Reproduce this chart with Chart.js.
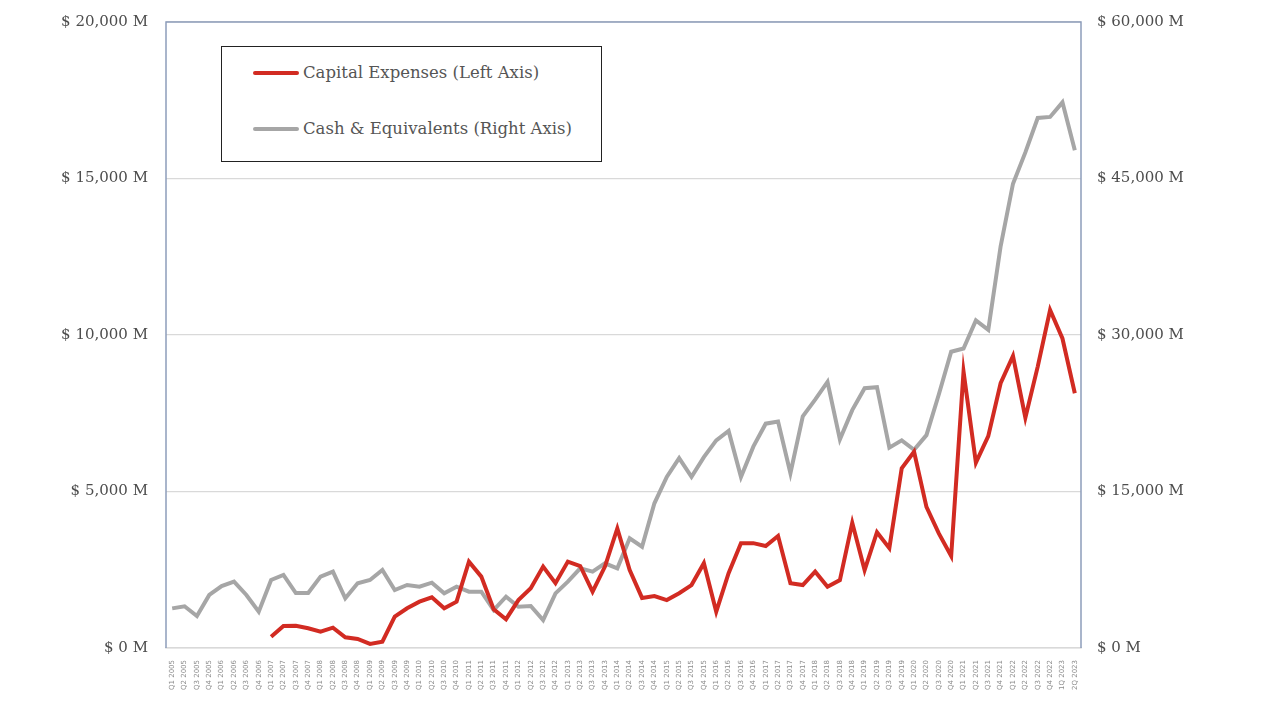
<!DOCTYPE html>
<html>
<head>
<meta charset="utf-8">
<script src="https://cdn.jsdelivr.net/npm/chart.js@4"></script>
<style>
  html, body { margin: 0; padding: 0; background: #fff; }
  #wrap { position: relative; width: 1269px; height: 722px; }
  #legend {
    position: absolute; left: 221px; top: 46px; width: 379px; height: 114px;
    border: 1.5px solid #222; background: #fff;
    font-family: "DejaVu Serif", serif; font-size: 16.5px; color: #555;
  }
  .row { position: absolute; left: 31px; display: flex; align-items: center; }
  .swatch { width: 46px; height: 4px; margin-right: 4px; border-radius: 2px; }
</style>
</head>
<body>
<div id="wrap">
  <canvas id="lineChart" width="1269" height="722"></canvas>
  <div id="legend"></div>
</div>
<script>
const ctx = document.getElementById('lineChart').getContext('2d');

// quarters Q1 2005 .. Q4 2022, then the two 2023 quarters
const years = [2005, 2006, 2007, 2008, 2009, 2010, 2011, 2012, 2013, 2014, 2015, 2016, 2017, 2018, 2019, 2020, 2021, 2022];
const quarters = ['Q1', 'Q2', 'Q3', 'Q4'];
const extraLabels = ['1Q 2023', '2Q 2023'];
const labels = [];
years.forEach(y => quarters.forEach(q => labels.push(q + ' ' + y)));
extraLabels.forEach(l => labels.push(l));

// $ M
const capex = [
  null, null, null, null, null, null, null, null,
  360, 700, 710, 630, 520, 650, 340, 290, 130, 200,
  1000, 1270, 1480, 1620, 1270, 1480, 2760, 2280, 1240, 920,
  1530, 1910, 2600, 2070, 2760, 2620, 1800, 2600, 3820, 2490,
  1600, 1660, 1530, 1750, 2010, 2710, 1160, 2390, 3350, 3350,
  3260, 3580, 2070, 2010, 2440, 1960, 2170, 4000, 2490, 3700,
  3190, 5740, 6270, 4510, 3660, 2940, 8830, 5920, 6770, 8460,
  9330, 7360, 8990, 10800, 9890, 8140
];
const cash = [
  3800, 4000, 3070, 5080, 5940, 6360, 5080, 3480, 6520, 7000,
  5270, 5270, 6840, 7320, 4770, 6200, 6520, 7480, 5560, 6040,
  5880, 6260, 5240, 5880, 5400, 5400, 3640, 4920, 3960, 4030,
  2680, 5240, 6360, 7640, 7320, 8120, 7640, 10520, 9710, 13870,
  16400, 18200, 16400, 18300, 19900, 20800, 16400, 19300, 21500, 21700,
  16750, 22200, 23800, 25500, 20000, 22800, 24900, 25000, 19200, 19900,
  19000, 20400, 24300, 28400, 28700, 31400, 30500, 38500, 44500, 47500,
  50800, 50900, 52300, 47700
];

const seriesNames = ['Capital Expenses (Left Axis)', 'Cash & Equivalents (Right Axis)'];
const seriesColors = ['#d22b22', '#a6a6a6'];

const money = v => '$ ' + v.toLocaleString('en-US') + ' M';
const tickFont = { family: 'DejaVu Serif', size: 15 };

// top/side frame of the plot area
const frame = {
  id: 'frame',
  afterDraw(chart) {
    const { ctx, chartArea: a } = chart;
    ctx.save();
    ctx.strokeStyle = '#8d9dbb';
    ctx.lineWidth = 1.5;
    ctx.beginPath();
    ctx.moveTo(a.left, a.bottom);
    ctx.lineTo(a.left, a.top);
    ctx.lineTo(a.right, a.top);
    ctx.lineTo(a.right, a.bottom);
    ctx.stroke();
    ctx.restore();
  }
};

const fitY = w => s => { s.width = w; s.paddingTop = 0; s.paddingBottom = 0; };

const chart = new Chart(ctx, {
  type: 'line',
  data: {
    labels,
    datasets: [
      {
        label: seriesNames[0],
        data: capex,
        yAxisID: 'y',
        borderColor: seriesColors[0],
        borderWidth: 4,
        pointRadius: 0,
        tension: 0,
        order: 1
      },
      {
        label: seriesNames[1],
        data: cash,
        yAxisID: 'y1',
        borderColor: seriesColors[1],
        borderWidth: 4,
        pointRadius: 0,
        tension: 0,
        order: 2
      }
    ]
  },
  options: {
    responsive: false,
    animation: false,
    layout: { padding: { top: 22, left: 0, right: 0, bottom: 0 } },
    plugins: { legend: { display: false }, tooltip: { enabled: false } },
    scales: {
      x: {
        offset: true,
        grid: { display: false },
        border: { display: true, color: '#d9d9d9', width: 1.5 },
        ticks: {
          autoSkip: false, minRotation: 90, maxRotation: 90,
          color: '#8c8c8c', font: { family: 'DejaVu Sans', size: 7 }, padding: 4
        },
        afterFit: s => { s.height = 74; }
      },
      y: {
        position: 'left',
        min: 0, max: 20000,
        ticks: { stepSize: 5000, callback: money, color: '#4d4d4d', font: tickFont, padding: 18 },
        grid: { color: '#d9d9d9', lineWidth: 1.2, drawTicks: false },
        border: { display: false },
        afterFit: fitY(166)
      },
      y1: {
        position: 'right',
        min: 0, max: 60000,
        ticks: { stepSize: 15000, callback: money, color: '#4d4d4d', font: tickFont, padding: 16 },
        grid: { display: false, drawTicks: false },
        border: { display: false },
        afterFit: fitY(188)
      }
    }
  },
  plugins: [frame]
});

// Legend box
const legend = document.getElementById('legend');
seriesNames.forEach((name, i) => {
  const row = document.createElement('div');
  row.className = 'row';
  row.style.top = (i === 0 ? 16 : 72) + 'px';
  row.innerHTML = '<span class="swatch" style="background:' + seriesColors[i] + '"></span><span>' + name + '</span>';
  legend.appendChild(row);
});
</script>
</body>
</html>
